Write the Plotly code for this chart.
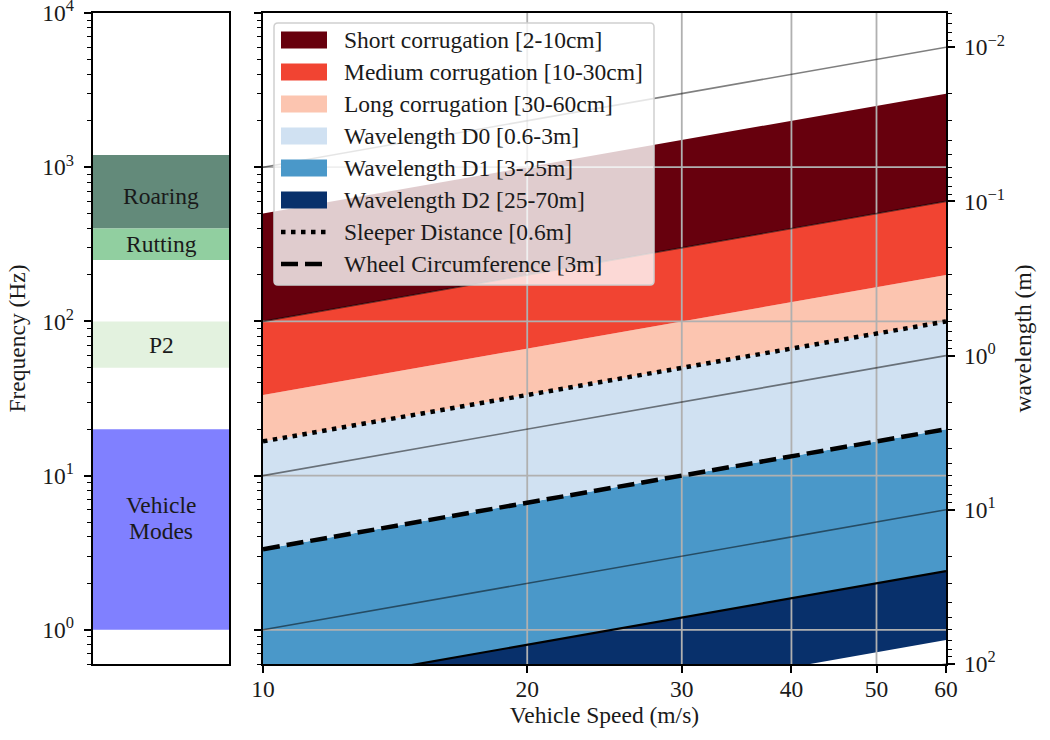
import numpy as np
import plotly.graph_objects as go

# ---------------- data ----------------
speed = [10, 20, 30, 40, 50, 60]  # vehicle speed (m/s)

band_names = ["Short corrugation [2-10cm]", "Medium corrugation [10-30cm]",
              "Long corrugation [30-60cm]", "Wavelength D0 [0.6-3m]",
              "Wavelength D1 [3-25m]", "Wavelength D2 [25-70m]"]
band_lambda_lo = [0.02, 0.10, 0.30, 0.6, 3.0, 25.0]   # m
band_lambda_hi = [0.10, 0.30, 0.60, 3.0, 25.0, 70.0]  # m
band_colors = ["#67000d", "#f14432", "#fcc5b0", "#d0e1f2", "#4a98c9", "#08306b"]

sleeper_lambda = 0.6   # m
wheel_lambda = 3.0     # m
d2_edge_lambda = 25.0  # m
ref_lambdas = [0.01, 0.1, 1.0, 10.0, 100.0]  # constant-wavelength guide lines

mode_names = ["Roaring", "Rutting", "P2", "Vehicle", "Modes"]
mode_lo = [400, 250, 50, 1]
mode_hi = [1200, 400, 100, 20]
mode_colors = ["#638a7a", "#91cfa0", "#e3f2df", "#8080ff"]

freq_ticks = [1, 10, 100, 1000, 10000]
freq_ticktext = ["10<sup>0</sup>", "10<sup>1</sup>", "10<sup>2</sup>", "10<sup>3</sup>", "10<sup>4</sup>"]
speed_ticks = [10, 20, 30, 40, 50, 60]
wl_ticks = [0.01, 0.1, 1, 10, 100]
wl_ticktext = ["10<sup>\u22122</sup>", "10<sup>\u22121</sup>", "10<sup>0</sup>", "10<sup>1</sup>", "10<sup>2</sup>"]

f_min, f_max = 0.6, 1e4
v_min, v_max = speed[0], speed[-1]

# ---------------- layout geometry ----------------
W, H = 1050, 740
def PX(x):
    return x / W
def PY(y):
    return 1 - y / H

FONT = "Liberation Serif"
FS = 23.5
TXT = "#1a1a1a"

fig = go.Figure()
annotations = []

# ---------- left panel: frequency ranges ----------
for lo, hi, col in zip(mode_lo, mode_hi, mode_colors):
    fig.add_trace(go.Scatter(x=[0, 1, 1, 0, 0], y=[lo, lo, hi, hi, lo], mode="lines",
                             fill="toself", fillcolor=col, line=dict(width=0),
                             showlegend=False, hoverinfo="skip", xaxis="x", yaxis="y"))

label_specs = [  # (text, band index, pixel shift)
    (mode_names[0], 0, -4),
    (mode_names[1], 1, 0),
    (mode_names[2], 2, 0),
    (mode_names[3], 3, 24),
    (mode_names[4], 3, -2),
]
for txt, bi, shift in label_specs:
    annotations.append(dict(text=txt, x=0.5, y=np.log10(np.sqrt(mode_lo[bi] * mode_hi[bi])),
                            xref="x", yref="y", yshift=shift, showarrow=False,
                            xanchor="center", yanchor="middle", borderpad=0,
                            font=dict(family=FONT, size=FS, color=TXT)))

# ---------- main panel: wavelength bands ----------
v = np.array([v_min, v_max], dtype=float)
for name, lo, hi, col in reversed(list(zip(band_names, band_lambda_lo, band_lambda_hi, band_colors))):
    upper = v / lo
    lower = v / hi
    fig.add_trace(go.Scatter(x=[v[0], v[1], v[1], v[0], v[0]],
                             y=[upper[0], upper[1], lower[1], lower[0], upper[0]],
                             mode="lines", fill="toself", fillcolor=col, line=dict(width=0),
                             name=name, showlegend=False, hoverinfo="skip",
                             xaxis="x2", yaxis="y2"))

# grid lines (drawn above the fills, as in the reference)
GRID = "#b0b0b0"
for s in speed_ticks[1:-1]:
    fig.add_trace(go.Scatter(x=[s, s], y=[f_min, f_max], mode="lines",
                             line=dict(color=GRID, width=1.8), showlegend=False,
                             hoverinfo="skip", xaxis="x2", yaxis="y2"))
for f in freq_ticks[:-1]:
    fig.add_trace(go.Scatter(x=[v_min, v_max], y=[f, f], mode="lines",
                             line=dict(color=GRID, width=1.8), showlegend=False,
                             hoverinfo="skip", xaxis="x2", yaxis="y2"))

# constant wavelength guide lines
for lam in ref_lambdas:
    fig.add_trace(go.Scatter(x=v, y=v / lam, mode="lines",
                             line=dict(color="rgba(0,0,0,0.5)", width=1.6), showlegend=False,
                             hoverinfo="skip", xaxis="x2", yaxis="y2"))

# D2 upper edge
fig.add_trace(go.Scatter(x=v, y=v / d2_edge_lambda, mode="lines",
                         line=dict(color="black", width=2.2), showlegend=False,
                         hoverinfo="skip", xaxis="x2", yaxis="y2"))

DOT = "4.5px,5.5px"
DASH = "17px,7px"
fig.add_trace(go.Scatter(x=v, y=v / sleeper_lambda, mode="lines", name="Sleeper Distance [0.6m]",
                         line=dict(color="black", width=4.5, dash=DOT), showlegend=False,
                         hoverinfo="skip", xaxis="x2", yaxis="y2"))
fig.add_trace(go.Scatter(x=v, y=v / wheel_lambda, mode="lines", name="Wheel Circumference [3m]",
                         line=dict(color="black", width=4.5, dash=DASH), showlegend=False,
                         hoverinfo="skip", xaxis="x2", yaxis="y2"))

# invisible trace to carry the wavelength axis
fig.add_trace(go.Scatter(x=[v_max, v_max], y=[wl_ticks[0], wl_ticks[-1]], mode="markers",
                         marker=dict(opacity=0), showlegend=False, hoverinfo="skip",
                         xaxis="x2", yaxis="y3"))

# ---------- manual legend ----------
lx0, lx1, ly0, ly1 = 274, 654, 23, 285
r = 4
path = (f"M {PX(lx0 + r)},{PY(ly0)} L {PX(lx1 - r)},{PY(ly0)} "
        f"Q {PX(lx1)},{PY(ly0)} {PX(lx1)},{PY(ly0 + r)} L {PX(lx1)},{PY(ly1 - r)} "
        f"Q {PX(lx1)},{PY(ly1)} {PX(lx1 - r)},{PY(ly1)} L {PX(lx0 + r)},{PY(ly1)} "
        f"Q {PX(lx0)},{PY(ly1)} {PX(lx0)},{PY(ly1 - r)} L {PX(lx0)},{PY(ly0 + r)} "
        f"Q {PX(lx0)},{PY(ly0)} {PX(lx0 + r)},{PY(ly0)} Z")
shapes = [dict(type="path", path=path, xref="paper", yref="paper",
               fillcolor="rgba(255,255,255,0.8)", line=dict(color="#d0d0d0", width=1.5),
               layer="above")]
legend_labels = band_names + ["Sleeper Distance [0.6m]", "Wheel Circumference [3m]"]
row_y = [40 + 32 * i for i in range(len(legend_labels))]
sw_x0, sw_x1 = 281, 327
for i, (lab, yy) in enumerate(zip(legend_labels, row_y)):
    if i < len(band_colors):
        shapes.append(dict(type="rect", xref="paper", yref="paper",
                           x0=PX(sw_x0), x1=PX(sw_x1), y0=PY(yy - 8.5), y1=PY(yy + 8.5),
                           fillcolor=band_colors[i], line=dict(width=0), layer="above"))
    else:
        shapes.append(dict(type="line", xref="paper", yref="paper",
                           x0=PX(sw_x0), x1=PX(sw_x1), y0=PY(yy), y1=PY(yy),
                           line=dict(color="black", width=4.5,
                                     dash=DOT if i == len(band_colors) else DASH),
                           layer="above"))
    annotations.append(dict(text=lab, x=PX(342), y=PY(yy), xref="paper", yref="paper",
                            xanchor="left", yanchor="middle", showarrow=False,
                            font=dict(family=FONT, size=FS, color=TXT)))

def minor_vals(lo, hi):
    out = []
    for d in range(-4, 5):
        for k in range(2, 10):
            val = k * 10.0 ** d
            if lo <= val <= hi:
                out.append(val)
    return out

AX = dict(showline=True, linecolor="black", linewidth=1.8, showgrid=False, zeroline=False,
          tickcolor="black", tickwidth=1.8, ticklen=7.5, automargin=False,
          ticklabeloverflow="allow",
          tickfont=dict(family=FONT, size=FS, color=TXT))

y_dom = [PY(664), PY(13)]
fig.update_layout(
    width=W, height=H, margin=dict(l=0, r=0, t=0, b=0, autoexpand=False),
    paper_bgcolor="white", plot_bgcolor="white",
    font=dict(family=FONT, size=FS, color=TXT),
    showlegend=False,
    xaxis=dict(AX, domain=[PX(93), PX(229)], range=[0, 1], ticks="", showticklabels=False,
               mirror=True, anchor="y", fixedrange=True),
    yaxis=dict(AX, domain=y_dom, type="log", range=[np.log10(f_min), np.log10(f_max)],
               anchor="x", mirror=True, ticks="outside", tickmode="array",
               tickvals=freq_ticks, ticktext=freq_ticktext, ticklabelstandoff=5,
               minor=dict(ticks="outside", ticklen=4.4, tickwidth=1.3, tickcolor="black",
                          tickmode="array", tickvals=minor_vals(f_min, f_max), showgrid=False),
               title=dict(text="Frequency (Hz)", standoff=10,
                          font=dict(family=FONT, size=FS, color=TXT))),
    xaxis2=dict(AX, domain=[PX(263), PX(946)], type="log",
                range=[np.log10(v_min), np.log10(v_max)], anchor="y2", mirror=True,
                ticks="outside", tickmode="array", tickvals=speed_ticks,
                ticktext=[str(s) for s in speed_ticks], ticklabelstandoff=-5,
                title=dict(text="Vehicle Speed (m/s)", standoff=5,
                           font=dict(family=FONT, size=FS, color=TXT))),
    yaxis2=dict(AX, domain=y_dom, type="log", range=[np.log10(f_min), np.log10(f_max)],
                anchor="x2", ticks="outside", tickmode="array", tickvals=freq_ticks,
                showticklabels=False,
                minor=dict(ticks="outside", ticklen=4.4, tickwidth=1.3, tickcolor="black",
                           tickmode="array", tickvals=minor_vals(f_min, f_max), showgrid=False)),
    yaxis3=dict(AX, domain=y_dom, type="log", overlaying="y2", side="right", anchor="x2",
                range=[np.log10(v_max / f_min), np.log10(v_max / f_max)],
                ticks="outside", tickmode="array", tickvals=wl_ticks, ticktext=wl_ticktext,
                ticklabelstandoff=4,
                minor=dict(ticks="outside", ticklen=4.4, tickwidth=1.3, tickcolor="black",
                           tickmode="array", tickvals=minor_vals(v_max / f_max, v_max / f_min),
                           showgrid=False),
                title=dict(text="wavelength (m)", standoff=10,
                           font=dict(family=FONT, size=FS, color=TXT))),
    shapes=shapes, annotations=annotations,
)

fig.write_html("out.html")
